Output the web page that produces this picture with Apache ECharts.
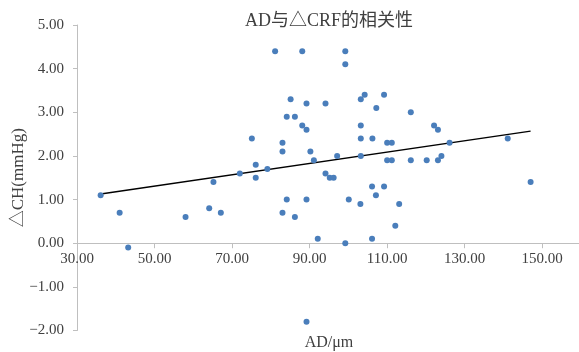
<!DOCTYPE html>
<html><head><meta charset="utf-8">
<script src="https://cdn.jsdelivr.net/npm/echarts@6/dist/echarts.min.js"></script>
<style>html,body{margin:0;padding:0;background:#fff}#c{width:579px;height:352px}</style>
</head><body><div id="c"></div>
<script>
// AD (μm) values
const adValues = [36.1, 41.0, 43.2, 58.0, 64.1, 65.2, 67.1, 72.0, 75.1, 76.1, 76.1, 79.1, 81.1, 83.0, 83.0, 83.0,
  84.1, 84.1, 85.1, 86.2, 86.2, 88.1, 88.1, 89.2, 89.2, 89.2, 89.2, 90.2, 91.1, 92.1, 94.1, 94.1, 95.2, 96.2,
  97.1, 99.2, 99.2, 99.2, 100.1, 103.2, 103.2, 103.2, 103.2, 103.1, 104.2, 106.2, 106.1, 106.1, 107.2, 107.1,
  109.2, 109.2, 110.0, 110.0, 111.2, 111.2, 112.1, 113.1, 116.1, 116.1, 120.2, 122.1, 123.1, 123.1, 124.0,
  126.1, 141.1, 147.0];
// ΔCH (mmHg) values
const dchValues = [1.1, 0.7, -0.1, 0.6, 0.8, 1.4, 0.7, 1.6, 2.4, 1.8, 1.5, 1.7, 4.4, 2.3, 2.1, 0.7,
  2.9, 1.0, 3.3, 2.9, 0.6, 4.4, 2.7, 3.2, 2.6, 1.0, -1.8, 2.1, 1.9, 0.1, 3.2, 1.6, 1.5, 1.5,
  2.0, 4.4, 4.1, 0.0, 1.0, 3.3, 2.7, 2.4, 2.0, 0.9, 3.4, 2.4, 1.3, 0.1, 3.1, 1.1,
  3.4, 1.3, 2.3, 1.9, 2.3, 1.9, 0.4, 0.9, 3.0, 1.9, 1.9, 2.7, 2.6, 1.9, 2.0,
  2.3, 2.4, 1.4];
const titleText = 'AD与△CRF的相关性';
const xName = 'AD/μm';
const yName = '△CH(mmHg)';

const points = adValues.map((x, i) => [x, dchValues[i]]);
// least-squares linear trend
const n = adValues.length;
const mx = adValues.reduce((a, b) => a + b, 0) / n;
const my = dchValues.reduce((a, b) => a + b, 0) / n;
let sxy = 0, sxx = 0;
for (let i = 0; i < n; i++) { sxy += (adValues[i] - mx) * (dchValues[i] - my); sxx += (adValues[i] - mx) ** 2; }
const slope = sxy / sxx, icpt = my - slope * mx;
const xMin = Math.min(...adValues), xMax = Math.max(...adValues);
const trend = [[xMin, icpt + slope * xMin], [xMax, icpt + slope * xMax]];

const FONT = "'Liberation Serif', 'Noto Sans CJK SC', serif";
const TXT = '#404040';
const fmt2 = v => (v < 0 ? '\u2212' : '') + Math.abs(v).toFixed(2);

const chart = echarts.init(document.getElementById('c'));
chart.setOption({
  animation: false,
  backgroundColor: '#fff',
  textStyle: { fontFamily: FONT },
  title: { text: titleText, left: 240, top: 7,
    textStyle: { fontFamily: FONT, fontSize: 18, fontWeight: 'normal', color: TXT } },
  grid: { left: 77, right: -2, top: 25, bottom: 21.5, outerBoundsMode: 'none' },
  xAxis: {
    type: 'value', min: 30, max: 160, interval: 20,
    name: xName, nameLocation: 'middle', nameGap: 92, nameMoveOverlap: false,
    nameTextStyle: { fontFamily: FONT, fontSize: 16, color: TXT },
    axisLine: { onZero: false, lineStyle: { color: '#bfbfbf', width: 1 } },
    axisTick: { show: true, length: 5, lineStyle: { color: '#bfbfbf' } },
    axisLabel: { margin: 8, fontFamily: FONT, fontSize: 15, color: TXT, showMaxLabel: false,
      formatter: v => v >= 160 ? '' : fmt2(v) },
    splitLine: { show: false }
  },
  yAxis: {
    type: 'value', min: -2, max: 5, interval: 1,
    name: yName, nameLocation: 'middle', nameGap: 50, nameRotate: 90, nameMoveOverlap: false,
    nameTextStyle: { fontFamily: FONT, fontSize: 17, color: TXT },
    axisLine: { show: true, lineStyle: { color: '#bfbfbf', width: 1 } },
    axisTick: { show: true, length: 4, lineStyle: { color: '#bfbfbf' } },
    axisLabel: { margin: 13, fontFamily: FONT, fontSize: 15, color: TXT, formatter: fmt2 },
    splitLine: { show: false }
  },
  series: [
    { type: 'scatter', data: points, symbolSize: 6, itemStyle: { color: '#4A7EBB', opacity: 1 }, z: 3 },
    { type: 'line', data: trend, showSymbol: false, symbol: 'none',
      lineStyle: { color: '#000', width: 1.5 }, z: 2, silent: true }
  ]
});
// place the x axis where y = 0 (the axis crosses at zero), using the chart's own y scale
const yBottomPx = chart.convertToPixel({ yAxisIndex: 0 }, -2);
const yZeroPx = chart.convertToPixel({ yAxisIndex: 0 }, 0);
chart.setOption({ xAxis: { offset: -(yBottomPx - yZeroPx) } });
</script></body></html>
